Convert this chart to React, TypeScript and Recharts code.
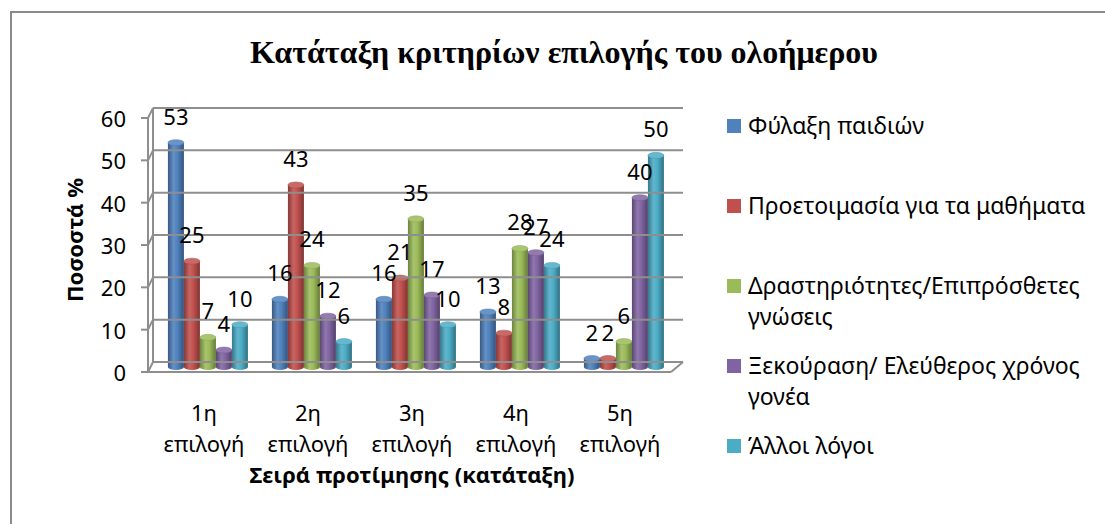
import React from "react";
import { BarChart, Bar, XAxis, YAxis, Legend, LabelList } from "recharts";

const categories = ["1η επιλογή", "2η επιλογή", "3η επιλογή", "4η επιλογή", "5η επιλογή"];
const seriesNames = [
  "Φύλαξη παιδιών",
  "Προετοιμασία για τα μαθήματα",
  "Δραστηριότητες/Επιπρόσθετες γνώσεις",
  "Ξεκούραση/ Ελεύθερος χρόνος γονέα",
  "Άλλοι λόγοι",
];
const childCare = [53, 16, 16, 13, 2];
const lessonPrep = [25, 43, 21, 8, 2];
const activities = [7, 24, 35, 28, 6];
const parentRest = [4, 12, 17, 27, 40];
const otherReasons = [10, 6, 10, 24, 50];
const yTicks = [0, 10, 20, 30, 40, 50, 60];

const colors = ["#4F81BD", "#C0504D", "#9BBB59", "#8064A2", "#4BACC6"];
const keys = ["s0", "s1", "s2", "s3", "s4"];

const data = categories.map((cat, i) => ({
  cat,
  s0: childCare[i],
  s1: lessonPrep[i],
  s2: activities[i],
  s3: parentRest[i],
  s4: otherReasons[i],
}));

const FONT = "'Noto Sans', 'Open Sans', sans-serif";
const GRID = "#8e8e8e";
const PLOT_H = 254;
const D = 5; // half depth of the 3d floor
const FRONT_X = 148;
const BACK_X = 153;
const FRONT_RIGHT = 671;
const BACK_RIGHT = 683;

function shade(hex: string, f: number) {
  const n = parseInt(hex.slice(1), 16);
  const ch = [(n >> 16) & 255, (n >> 8) & 255, n & 255].map((c) =>
    Math.round(f < 0 ? c * (1 + f) : c + (255 - c) * f)
  );
  return `rgb(${ch[0]},${ch[1]},${ch[2]})`;
}

function YTick(props: any) {
  const { y, payload } = props;
  const v = payload.value;
  return (
    <g>
      <line x1={BACK_X} y1={y - D} x2={BACK_RIGHT} y2={y - D} stroke={GRID} strokeWidth={2} />
      <line x1={FRONT_X} y1={y + D} x2={BACK_X} y2={y - D} stroke={GRID} strokeWidth={2} />
      <line x1={FRONT_X - 7} y1={y + D} x2={FRONT_X} y2={y + D} stroke={GRID} strokeWidth={2} />
      {v === 0 && (
        <g>
          <line x1={FRONT_X} y1={y + D} x2={FRONT_RIGHT} y2={y + D} stroke={GRID} strokeWidth={2} />
          <line x1={FRONT_RIGHT} y1={y + D} x2={BACK_RIGHT} y2={y - D} stroke={GRID} strokeWidth={2} />
          <line x1={FRONT_X} y1={y + D} x2={FRONT_X} y2={y + D - PLOT_H} stroke={GRID} strokeWidth={2} />
          <line x1={BACK_X} y1={y - D} x2={BACK_X} y2={y - D - PLOT_H} stroke={GRID} strokeWidth={2} />
        </g>
      )}
      <text x={126} y={y + D} textAnchor="end" dominantBaseline="central" fontFamily={FONT} fontSize={22} fill="#000">
        {v}
      </text>
    </g>
  );
}

function XTick(props: any) {
  const { x, y, payload } = props;
  const [a, b] = String(payload.value).split(" ");
  return (
    <g fontFamily={FONT} fontSize={22} fill="#000">
      <text x={x - 5} y={y + 45} textAnchor="middle" dominantBaseline="central">{a}</text>
      <text x={x - 5} y={y + 76} textAnchor="middle" dominantBaseline="central">{b}</text>
    </g>
  );
}

function makeCylinder(idx: number) {
  return function Cylinder(props: any) {
    const { x, y, width, height } = props;
    if (!height || height <= 0) return null;
    const rx = width / 2;
    const ry = 3;
    const d = `M${x},${y} L${x},${y + height} A${rx},${ry} 0 0 0 ${x + width},${y + height} L${x + width},${y} Z`;
    return (
      <g>
        <path d={d} fill={`url(#cyl${idx})`} />
        <ellipse cx={x + rx} cy={y} rx={rx} ry={ry} fill={shade(colors[idx], 0.15)} stroke={shade(colors[idx], -0.1)} strokeWidth={0.5} />
      </g>
    );
  };
}

function LegendBox() {
  return (
    <div style={{ position: "relative", height: 380, fontFamily: FONT, fontSize: 23, color: "#000" }}>
      {seriesNames.map((n, i) => (
        <div key={n} style={{ position: "absolute", top: i * 80, left: 0, display: "flex", alignItems: "flex-start" }}>
          <span style={{ display: "inline-block", width: 14, height: 14, background: colors[i], marginTop: 9, flex: "none" }} />
          <span style={{ marginLeft: 7, width: 352, lineHeight: "31px" }}>{n}</span>
        </div>
      ))}
    </div>
  );
}

export default function App() {
  return (
    <div style={{ position: "absolute", left: 0, top: 0, width: 1105, height: 524, overflow: "hidden", background: "#fff" }}>
      <div style={{ position: "absolute", left: 10, top: 11, width: 1200, height: 700, border: "2px solid #8a8a8a", boxSizing: "border-box" }} />
      <div
        style={{
          position: "absolute",
          left: 0,
          width: 1128,
          top: 32,
          textAlign: "center",
          fontFamily: "'Liberation Serif', 'Times New Roman', serif",
          fontWeight: "bold",
          fontSize: 32,
          lineHeight: "40px",
          color: "#000",
        }}
      >
        Κατάταξη κριτηρίων επιλογής του ολοήμερου
      </div>
      <div style={{ position: "absolute", left: 0, top: 0 }}>
        <BarChart
          width={1105}
          height={524}
          data={data}
          margin={{ top: 113, right: 428, bottom: 97, left: 57 }}
          barCategoryGap="10.5%"
          barGap={0}
        >
          <defs>
            {colors.map((c, i) => (
              <linearGradient key={i} id={`cyl${i}`} x1="0" y1="0" x2="1" y2="0">
                <stop offset="0%" stopColor={shade(c, -0.3)} />
                <stop offset="35%" stopColor={shade(c, 0.12)} />
                <stop offset="60%" stopColor={c} />
                <stop offset="100%" stopColor={shade(c, -0.35)} />
              </linearGradient>
            ))}
          </defs>
          <YAxis
            type="number"
            domain={[0, 60]}
            ticks={yTicks}
            interval={0}
            width={100}
            axisLine={false}
            tickLine={false}
            tick={<YTick />}
            label={{
              value: "Ποσοστά %",
              angle: -90,
              position: "center",
              dx: -32,
              style: { fontFamily: FONT, fontWeight: "bold", fontSize: 22, fill: "#000" },
            }}
          />
          <XAxis
            dataKey="cat"
            height={60}
            axisLine={false}
            tickLine={false}
            tickSize={0}
            tickMargin={0}
            interval={0}
            tick={<XTick />}
            label={{
              value: "Σειρά προτίμησης (κατάταξη)",
              position: "bottom",
              offset: 40,
              dx: -5,
              style: { fontFamily: FONT, fontWeight: "bold", fontSize: 22, fill: "#000" },
            }}
          />
          <Legend
            layout="vertical"
            align="center"
            verticalAlign="middle"
            wrapperStyle={{ left: 727, top: 110, width: 378 }}
            content={<LegendBox />}
          />
          {keys.map((k, i) => (
            <Bar key={k} dataKey={k} name={seriesNames[i]} fill={colors[i]} isAnimationActive={false} shape={makeCylinder(i)}>
              <LabelList dataKey={k} position="top" offset={18} fill="#000" fontSize={22} fontFamily={FONT} />
            </Bar>
          ))}
        </BarChart>
      </div>
    </div>
  );
}
